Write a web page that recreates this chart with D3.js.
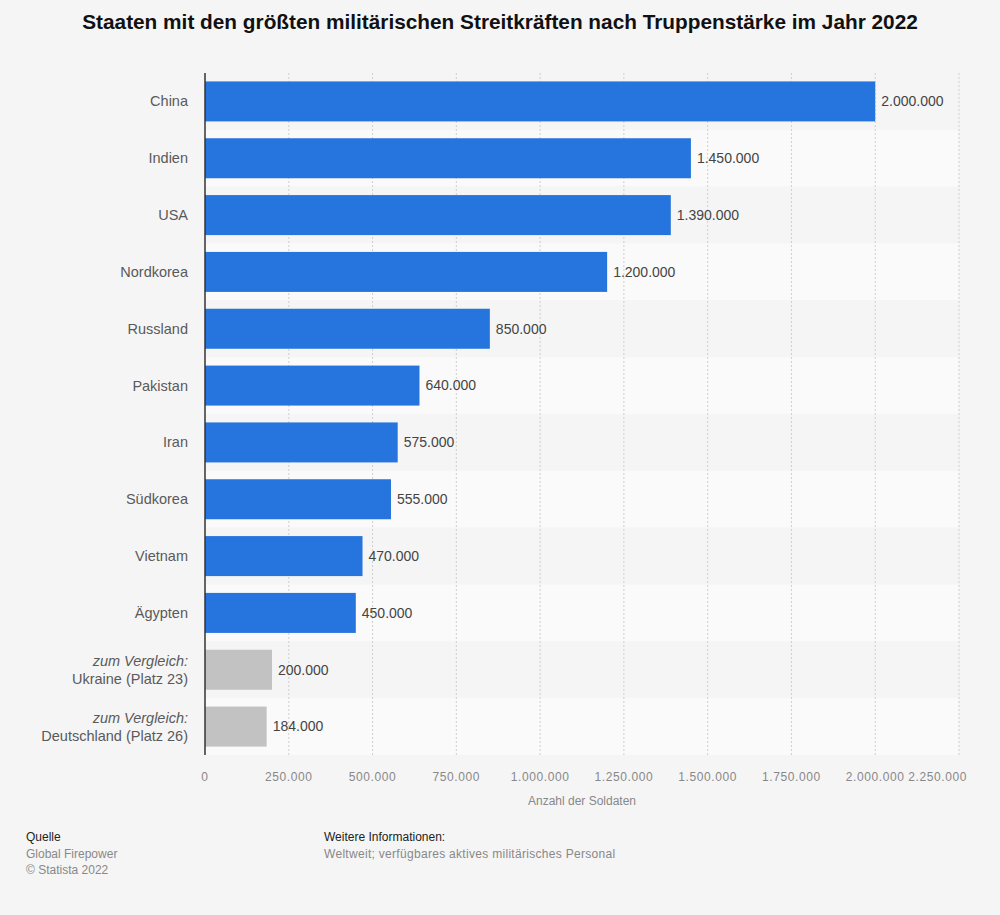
<!DOCTYPE html>
<html>
<head>
<meta charset="utf-8">
<script src="https://cdn.jsdelivr.net/npm/d3@7"></script>
<style>
  body { margin: 0; background: #f5f5f5; }
  svg { font-family: "Liberation Sans", Arial, sans-serif; display: block; }
</style>
</head>
<body>
<div id="plot"></div>
<script>
// chart data
var countries = ["China", "Indien", "USA", "Nordkorea", "Russland", "Pakistan", "Iran", "Südkorea", "Vietnam", "Ägypten", "Ukraine (Platz 23)", "Deutschland (Platz 26)"];
var soldiers = [2000000, 1450000, 1390000, 1200000, 850000, 640000, 575000, 555000, 470000, 450000, 200000, 184000];
var comparison = [false, false, false, false, false, false, false, false, false, false, true, true];
var xTicks = [0, 250000, 500000, 750000, 1000000, 1250000, 1500000, 1750000, 2000000, 2250000];

var data = countries.map(function(c, i) {
  return {name: c, value: soldiers[i], cmp: comparison[i]};
});

var W = 1000, H = 915;
var margin = {top: 73, right: 40, bottom: 160, left: 205};

var fmt = d3.formatLocale({decimal: ",", thousands: ".", grouping: [3], currency: ["", "€"]}).format(",d");

var svg = d3.select("div#plot").append("svg")
    .attr("width", W)
    .attr("height", H);

svg.append("rect").attr("width", W).attr("height", H).attr("fill", "#f5f5f5");

// title
svg.append("text")
    .attr("x", W / 2)
    .attr("y", 29)
    .attr("text-anchor", "middle")
    .style("font-size", "20.8px")
    .style("font-weight", "bold")
    .attr("fill", "#111")
    .text("Staaten mit den größten militärischen Streitkräften nach Truppenstärke im Jahr 2022");

var g = svg.append("g")
    .attr("transform", "translate(" + margin.left + "," + margin.top + ")");

var x = d3.scaleLinear()
    .domain([0, 2250000])
    .range([0, 754]);

var y = d3.scaleBand()
    .domain(countries)
    .range([0, 682])
    .paddingInner(0)
    .paddingOuter(0);

// row stripes
g.selectAll(".stripe")
    .data(data)
    .enter().append("rect")
    .attr("class", "stripe")
    .attr("x", 0)
    .attr("y", d => y(d.name))
    .attr("width", x(2250000))
    .attr("height", y.bandwidth())
    .attr("fill", (d, i) => i % 2 ? "#fafafa" : "#f5f5f5");

// gridlines
g.selectAll(".grid")
    .data(xTicks.slice(1))
    .enter().append("line")
    .attr("class", "grid")
    .attr("x1", d => x(d)).attr("x2", d => x(d))
    .attr("y1", 0).attr("y2", y.range()[1])
    .attr("stroke", "#cfcfcf")
    .attr("stroke-width", 1)
    .attr("stroke-dasharray", "2,2");

// bars
var barH = 40;
g.selectAll(".bar")
    .data(data)
    .enter().append("rect")
    .attr("class", "bar")
    .attr("x", 0)
    .attr("y", d => y(d.name) + (y.bandwidth() - barH) / 2)
    .attr("width", d => x(d.value))
    .attr("height", barH)
    .attr("fill", d => d.cmp ? "#c2c2c2" : "#2674dd");

// value labels
g.selectAll(".val")
    .data(data)
    .enter().append("text")
    .attr("class", "val")
    .attr("x", d => x(d.value) + 6)
    .attr("y", d => y(d.name) + y.bandwidth() / 2)
    .attr("dy", "0.35em")
    .style("font-size", "14px")
    .attr("fill", "#444")
    .text(d => fmt(d.value));

// category labels
var cat = g.selectAll(".cat")
    .data(data)
    .enter().append("text")
    .attr("class", "cat")
    .attr("x", -17)
    .attr("y", d => y(d.name) + y.bandwidth() / 2)
    .attr("text-anchor", "end")
    .style("font-size", "14.5px")
    .attr("fill", "#5a5a5a");

cat.filter(d => !d.cmp)
    .attr("dy", "0.35em")
    .text(d => d.name);

cat.filter(d => d.cmp).each(function(d) {
  var t = d3.select(this);
  t.append("tspan").attr("x", -17).attr("dy", "-0.25em")
    .style("font-style", "italic").text("zum Vergleich:");
  t.append("tspan").attr("x", -17).attr("dy", "1.25em").text(d.name);
});

// y axis line
g.append("line")
    .attr("x1", 0).attr("x2", 0)
    .attr("y1", 0).attr("y2", y.range()[1])
    .attr("stroke", "#333")
    .attr("stroke-width", 1.5);

// x axis tick labels
g.selectAll(".tick-lbl")
    .data(xTicks)
    .enter().append("text")
    .attr("class", "tick-lbl")
    .attr("x", (d, i) => i === xTicks.length - 1 ? x(d) + 8 : x(d))
    .attr("y", y.range()[1] + 26)
    .attr("text-anchor", (d, i) => i === xTicks.length - 1 ? "end" : "middle")
    .style("font-size", "12px")
    .style("letter-spacing", "0.6px")
    .attr("fill", "#888")
    .text(d => fmt(d));

g.append("text")
    .attr("x", 377)
    .attr("y", y.range()[1] + 50)
    .attr("text-anchor", "middle")
    .style("font-size", "12px")
    .attr("fill", "#888")
    .text("Anzahl der Soldaten");

// footer
var foot = svg.append("g").style("font-size", "12px");
foot.append("text").attr("x", 26).attr("y", 841).attr("fill", "#222").text("Quelle");
foot.append("text").attr("x", 26).attr("y", 858).attr("fill", "#888").text("Global Firepower");
foot.append("text").attr("x", 26).attr("y", 874).attr("fill", "#888").text("© Statista 2022");
foot.append("text").attr("x", 324).attr("y", 841).attr("fill", "#222").text("Weitere Informationen:");
foot.append("text").attr("x", 324).attr("y", 858).attr("fill", "#888").style("letter-spacing", "0.3px").text("Weltweit; verfügbares aktives militärisches Personal");
</script>
</body>
</html>
